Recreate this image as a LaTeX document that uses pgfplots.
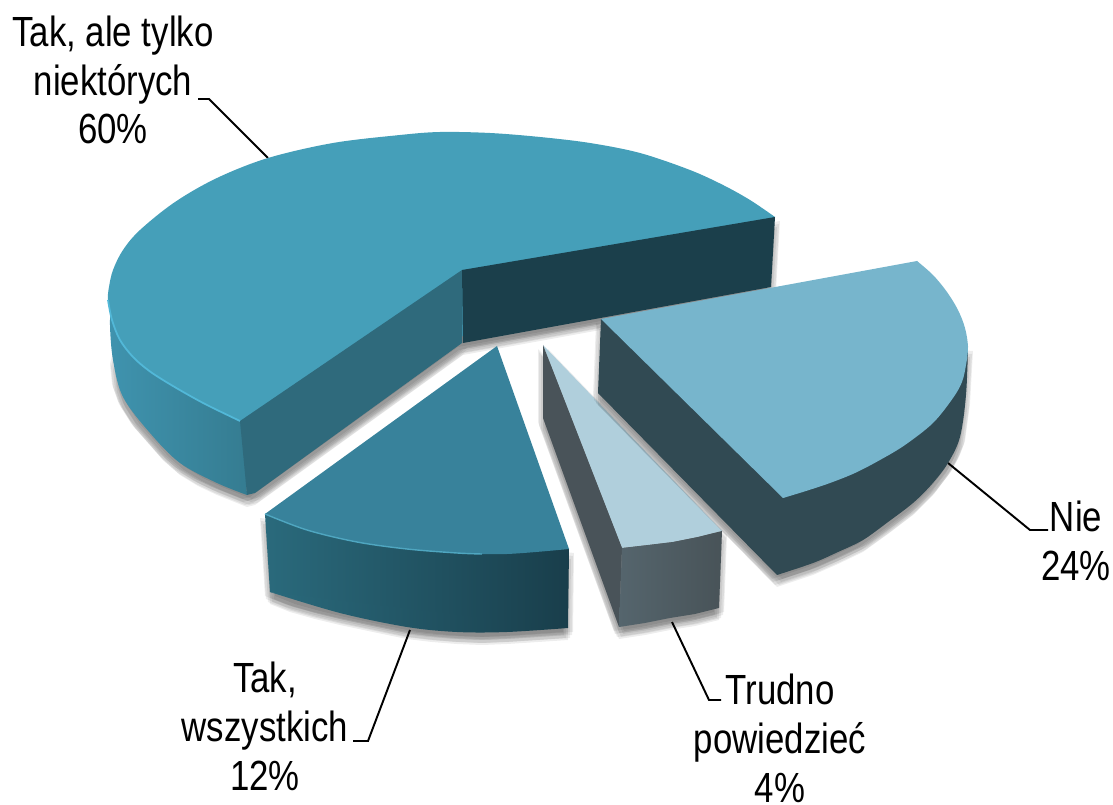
\documentclass[border=0pt]{standalone}
\usepackage{fontspec}
\setmainfont[FakeStretch=0.825]{Liberation Sans}
\usepackage{pgfplots}
\pgfplotsset{compat=1.18}

\definecolor{bigtop}{HTML}{459FB9}
\definecolor{bigwallL}{HTML}{3F93AE}
\definecolor{bigwallR}{HTML}{357C91}
\definecolor{biginner}{HTML}{2F6A7C}
\definecolor{bigdark}{HTML}{1B3F4B}
\definecolor{bigedge}{HTML}{52B8D8}
\definecolor{taktop}{HTML}{38829B}
\definecolor{takwallL}{HTML}{2A6A7C}
\definecolor{takwallR}{HTML}{193E4B}
\definecolor{takedge}{HTML}{4FA6C0}
\definecolor{trutop}{HTML}{B0CFDC}
\definecolor{truinner}{HTML}{495359}
\definecolor{truwallL}{HTML}{55656D}
\definecolor{truwallR}{HTML}{485358}
\definecolor{nietop}{HTML}{77B5CC}
\definecolor{niewall}{HTML}{314A53}

\tikzset{leader/.style={black, line width=0.55pt},
  lab/.style={align=center, inner sep=0pt, font=\fontsize{12}{13.9}\selectfont},
  arc/.style={smooth, tension=0.55}}

% outlines, in pixels of the reference
% 60 percent slice
\pgfplotstableread{
x y
775 217
750 200
723 185
690 170
640 153
590 143
540 137
490 133
440 132
400 135
333 143
268 158
217 178
175 202
140 230
123 250
113 270
109 287
108 300
112 320
120 340
133 357
148 370
163 380
185 393
207 405
240 421
}\tBigTop
\pgfplotstableread{
x y
247 495
217 483
180 463
150 433
123 397
113 360
110 325
112 312
122 318
150 330
200 360
240 390
}\tBigWall
\pgfplotstableread{
x y
240 421
462 270
462 343
255 493
247 495
}\tBigInner
\pgfplotstableread{
x y
462 270
775 217
771 287
463 343
}\tBigDark
\pgfplotstableread{
x y
120 340
133 357
148 370
163 380
185 393
207 405
240 421
462 270
775 217
771 287
463 343
255 493
247 495
232 489
217 483
198 474
180 463
164 449
150 433
135 416
123 397
117 380
115 360
}\tBigShadow
\pgfplotstableread{
x y
108 300
112 320
120 340
133 357
148 370
163 380
185 393
207 405
240 421
}\tBigEdge

% 12 percent slice
\pgfplotstableread{
x y
497 346
265 514
417 540
569 549
}\tTakTri
\pgfplotstableread{
x y
265 514
307 530
357 542
407 549
457 553
507 554
569 549
}\tTakArc
\pgfplotstableread{
x y
265 514
569 549
568 628
420 622
270 592
}\tTakWall
\pgfplotstableread{
x y
270 592
340 613
407 627
457 632
507 632
568 628
}\tTakLow
\pgfplotstableread{
x y
265 514
307 530
357 542
407 549
457 553
482 554
}\tTakEdge
\pgfplotstableread{
x y
265 514
569 549
568 628
538 630
507 632
482 633
457 632
432 630
407 627
373 620
340 613
315 607
290 600
270 592
}\tTakShadow

% 4 percent slice
\pgfplotstableread{
x y
543 345
722 531
698 537
673 542
648 545
622 548
}\tTruTop
\pgfplotstableread{
x y
543 345
622 548
619 627
543 418
}\tTruInner
\pgfplotstableread{
x y
622 548
648 545
673 542
698 537
722 531
719 608
695 614
670 618
645 623
619 627
}\tTruWall
\pgfplotstableread{
x y
543 345
543 418
619 627
645 623
670 618
695 614
719 608
722 531
}\tTruShadow

% 24 percent slice
\pgfplotstableread{
x y
601 319
917 261
968 347
880 450
783 498
}\tNiePoly
\pgfplotstableread{
x y
917 261
933 275
947 292
958 310
965 328
968 347
966 365
962 382
953 398
933 423
905 445
880 460
855 473
830 483
806 491
783 498
}\tNieArc
\pgfplotstableread{
x y
601 319
968 347
940 440
860 520
777 575
598 393
}\tNieWall
\pgfplotstableread{
x y
968 347
966 395
960 437
948 463
932 484
913 503
888 522
863 540
838 552
813 563
777 575
}\tNieLow
\pgfplotstableread{
x y
601 319
968 347
965 400
960 437
955 450
948 463
932 484
913 503
888 522
863 540
838 552
813 563
795 569
777 575
598 393
}\tNieShadow

\newcommand\shadowlayer[3]{\addplot[fill=black, fill opacity=0.07, draw=none,
  x filter/.expression={x+#1}, y filter/.expression={y+#2}] table[x=x,y=y]{#3};}
\newcommand\shadowof[1]{%
  \shadowlayer{-5}{4}{#1}\shadowlayer{5}{4}{#1}%
  \shadowlayer{-4}{7}{#1}\shadowlayer{4}{7}{#1}%
  \shadowlayer{-2}{10}{#1}\shadowlayer{2}{10}{#1}%
  \shadowlayer{0}{12}{#1}\shadowlayer{0}{6}{#1}}

\begin{document}
\begin{tikzpicture}
\path[use as bounding box] (0,0) rectangle (11.13cm,8.05cm);
\begin{axis}[scale only axis, width=11.13cm, height=8.05cm, hide axis,
  xmin=0, xmax=1113, ymin=0, ymax=805, y dir=reverse, clip=false]

% leader lines
\addplot[leader] coordinates {(198,99) (209,99) (268,158)};
\addplot[leader] coordinates {(353,741) (368,741) (410,630)};
\addplot[leader] coordinates {(672,622) (709,700) (721,700)};
\addplot[leader] coordinates {(948,463) (1030,530) (1048,530)};

% 60 percent
\shadowof{\tBigShadow}
\addplot[arc, draw=none, left color=bigwallL, right color=bigwallR] table[x=x,y=y]{\tBigWall};
\addplot[arc, draw=none, fill=bigtop] table[x=x,y=y]{\tBigTop};
\addplot[draw=none, fill=biginner] table[x=x,y=y]{\tBigInner};
\addplot[draw=none, fill=bigdark] table[x=x,y=y]{\tBigDark};
\addplot[arc, bigedge, line width=0.5pt] table[x=x,y=y]{\tBigEdge};

% 12 percent
\shadowof{\tTakShadow}
\addplot[draw=none, left color=takwallL, right color=takwallR] table[x=x,y=y]{\tTakWall};
\addplot[arc, draw=none, left color=takwallL, right color=takwallR] table[x=x,y=y]{\tTakLow};
\addplot[draw=none, fill=taktop] table[x=x,y=y]{\tTakTri};
\addplot[arc, draw=none, fill=taktop] table[x=x,y=y]{\tTakArc};
\addplot[arc, takedge, line width=0.4pt] table[x=x,y=y]{\tTakEdge};

% 4 percent
\shadowof{\tTruShadow}
\addplot[draw=none, fill=trutop] table[x=x,y=y]{\tTruTop};
\addplot[draw=none, fill=truinner] table[x=x,y=y]{\tTruInner};
\addplot[draw=none, left color=truwallL, right color=truwallR] table[x=x,y=y]{\tTruWall};

% 24 percent
\shadowof{\tNieShadow}
\addplot[draw=none, fill=niewall] table[x=x,y=y]{\tNieWall};
\addplot[arc, draw=none, fill=niewall] table[x=x,y=y]{\tNieLow};
\addplot[draw=none, fill=nietop] table[x=x,y=y]{\tNiePoly};
\addplot[arc, draw=none, fill=nietop] table[x=x,y=y]{\tNieArc};

\node[lab] at (axis cs:113,80) {Tak, ale tylko\\niektórych\\60\%};
\node[lab] at (axis cs:1076,541) {Nie\\24\%};
\node[lab] at (axis cs:780,738) {Trudno\\powiedzieć\\4\%};
\node[lab] at (axis cs:265,726) {Tak,\\wszystkich\\12\%};
\end{axis}
\end{tikzpicture}
\end{document}
